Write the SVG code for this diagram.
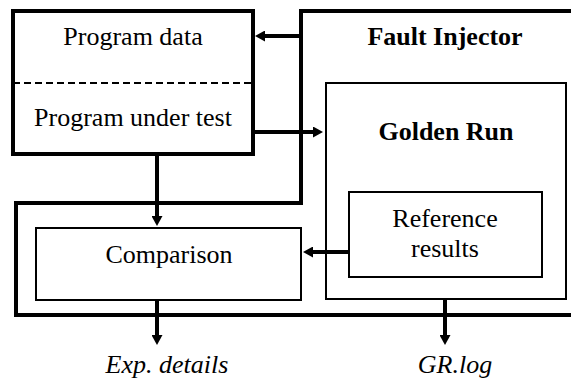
<svg xmlns="http://www.w3.org/2000/svg" width="571" height="380" viewBox="0 0 571 380">
<style>
text{font-family:"Liberation Serif","Times New Roman",serif;font-size:26px;fill:#000;text-anchor:middle}
.b{font-weight:bold}
.i{font-style:italic}
.thick{fill:none;stroke:#000;stroke-width:4}
.thin{fill:#fff;stroke:#000;stroke-width:2}
.conn{fill:none;stroke:#000;stroke-width:4;marker-end:url(#ah)}
</style>
<defs>
<marker id="ah" markerUnits="userSpaceOnUse" markerWidth="11" markerHeight="11" refX="2" refY="5.5" orient="auto">
<path d="M0,0 L10,5.5 L0,11 z" fill="#000"/>
</marker>
</defs>
<rect width="571" height="380" fill="#fff"/>
<g id="fault-injector">
<path class="thick" d="M571,11 H301 V203 H16 V315 H571"/>
<text class="b" x="445" y="45">Fault Injector</text>
</g>
<g id="program">
<rect x="13" y="11" width="240" height="143" fill="#fff" stroke="#000" stroke-width="4"/>
<line x1="13" y1="83" x2="253" y2="83" stroke="#000" stroke-width="2" stroke-dasharray="7,4"/>
<text x="133" y="45">Program data</text>
<text x="133" y="126">Program under test</text>
</g>
<g id="golden-run">
<rect class="thin" x="326" y="83" width="240" height="216"/>
<text class="b" x="446" y="140">Golden Run</text>
</g>
<g id="reference-results">
<rect class="thin" x="349" y="192" width="193" height="85"/>
<text x="445" y="227">Reference</text>
<text x="445" y="257">results</text>
</g>
<g id="comparison">
<rect class="thin" x="36" y="228" width="265" height="72"/>
<text x="169" y="263">Comparison</text>
</g>
<g id="exp-details"><text class="i" x="167" y="373">Exp. details</text></g>
<g id="gr-log"><text class="i" x="455" y="373">GR.log</text></g>
<g id="connectors">
<line class="conn" x1="301" y1="36" x2="263" y2="36"/>
<line class="conn" x1="253" y1="132" x2="315" y2="132"/>
<line class="conn" x1="157" y1="154" x2="157" y2="218"/>
<line class="conn" x1="349" y1="252" x2="311" y2="252"/>
<line class="conn" x1="157" y1="300" x2="157" y2="337"/>
<line class="conn" x1="445" y1="299" x2="445" y2="337"/>
</g>
</svg>
